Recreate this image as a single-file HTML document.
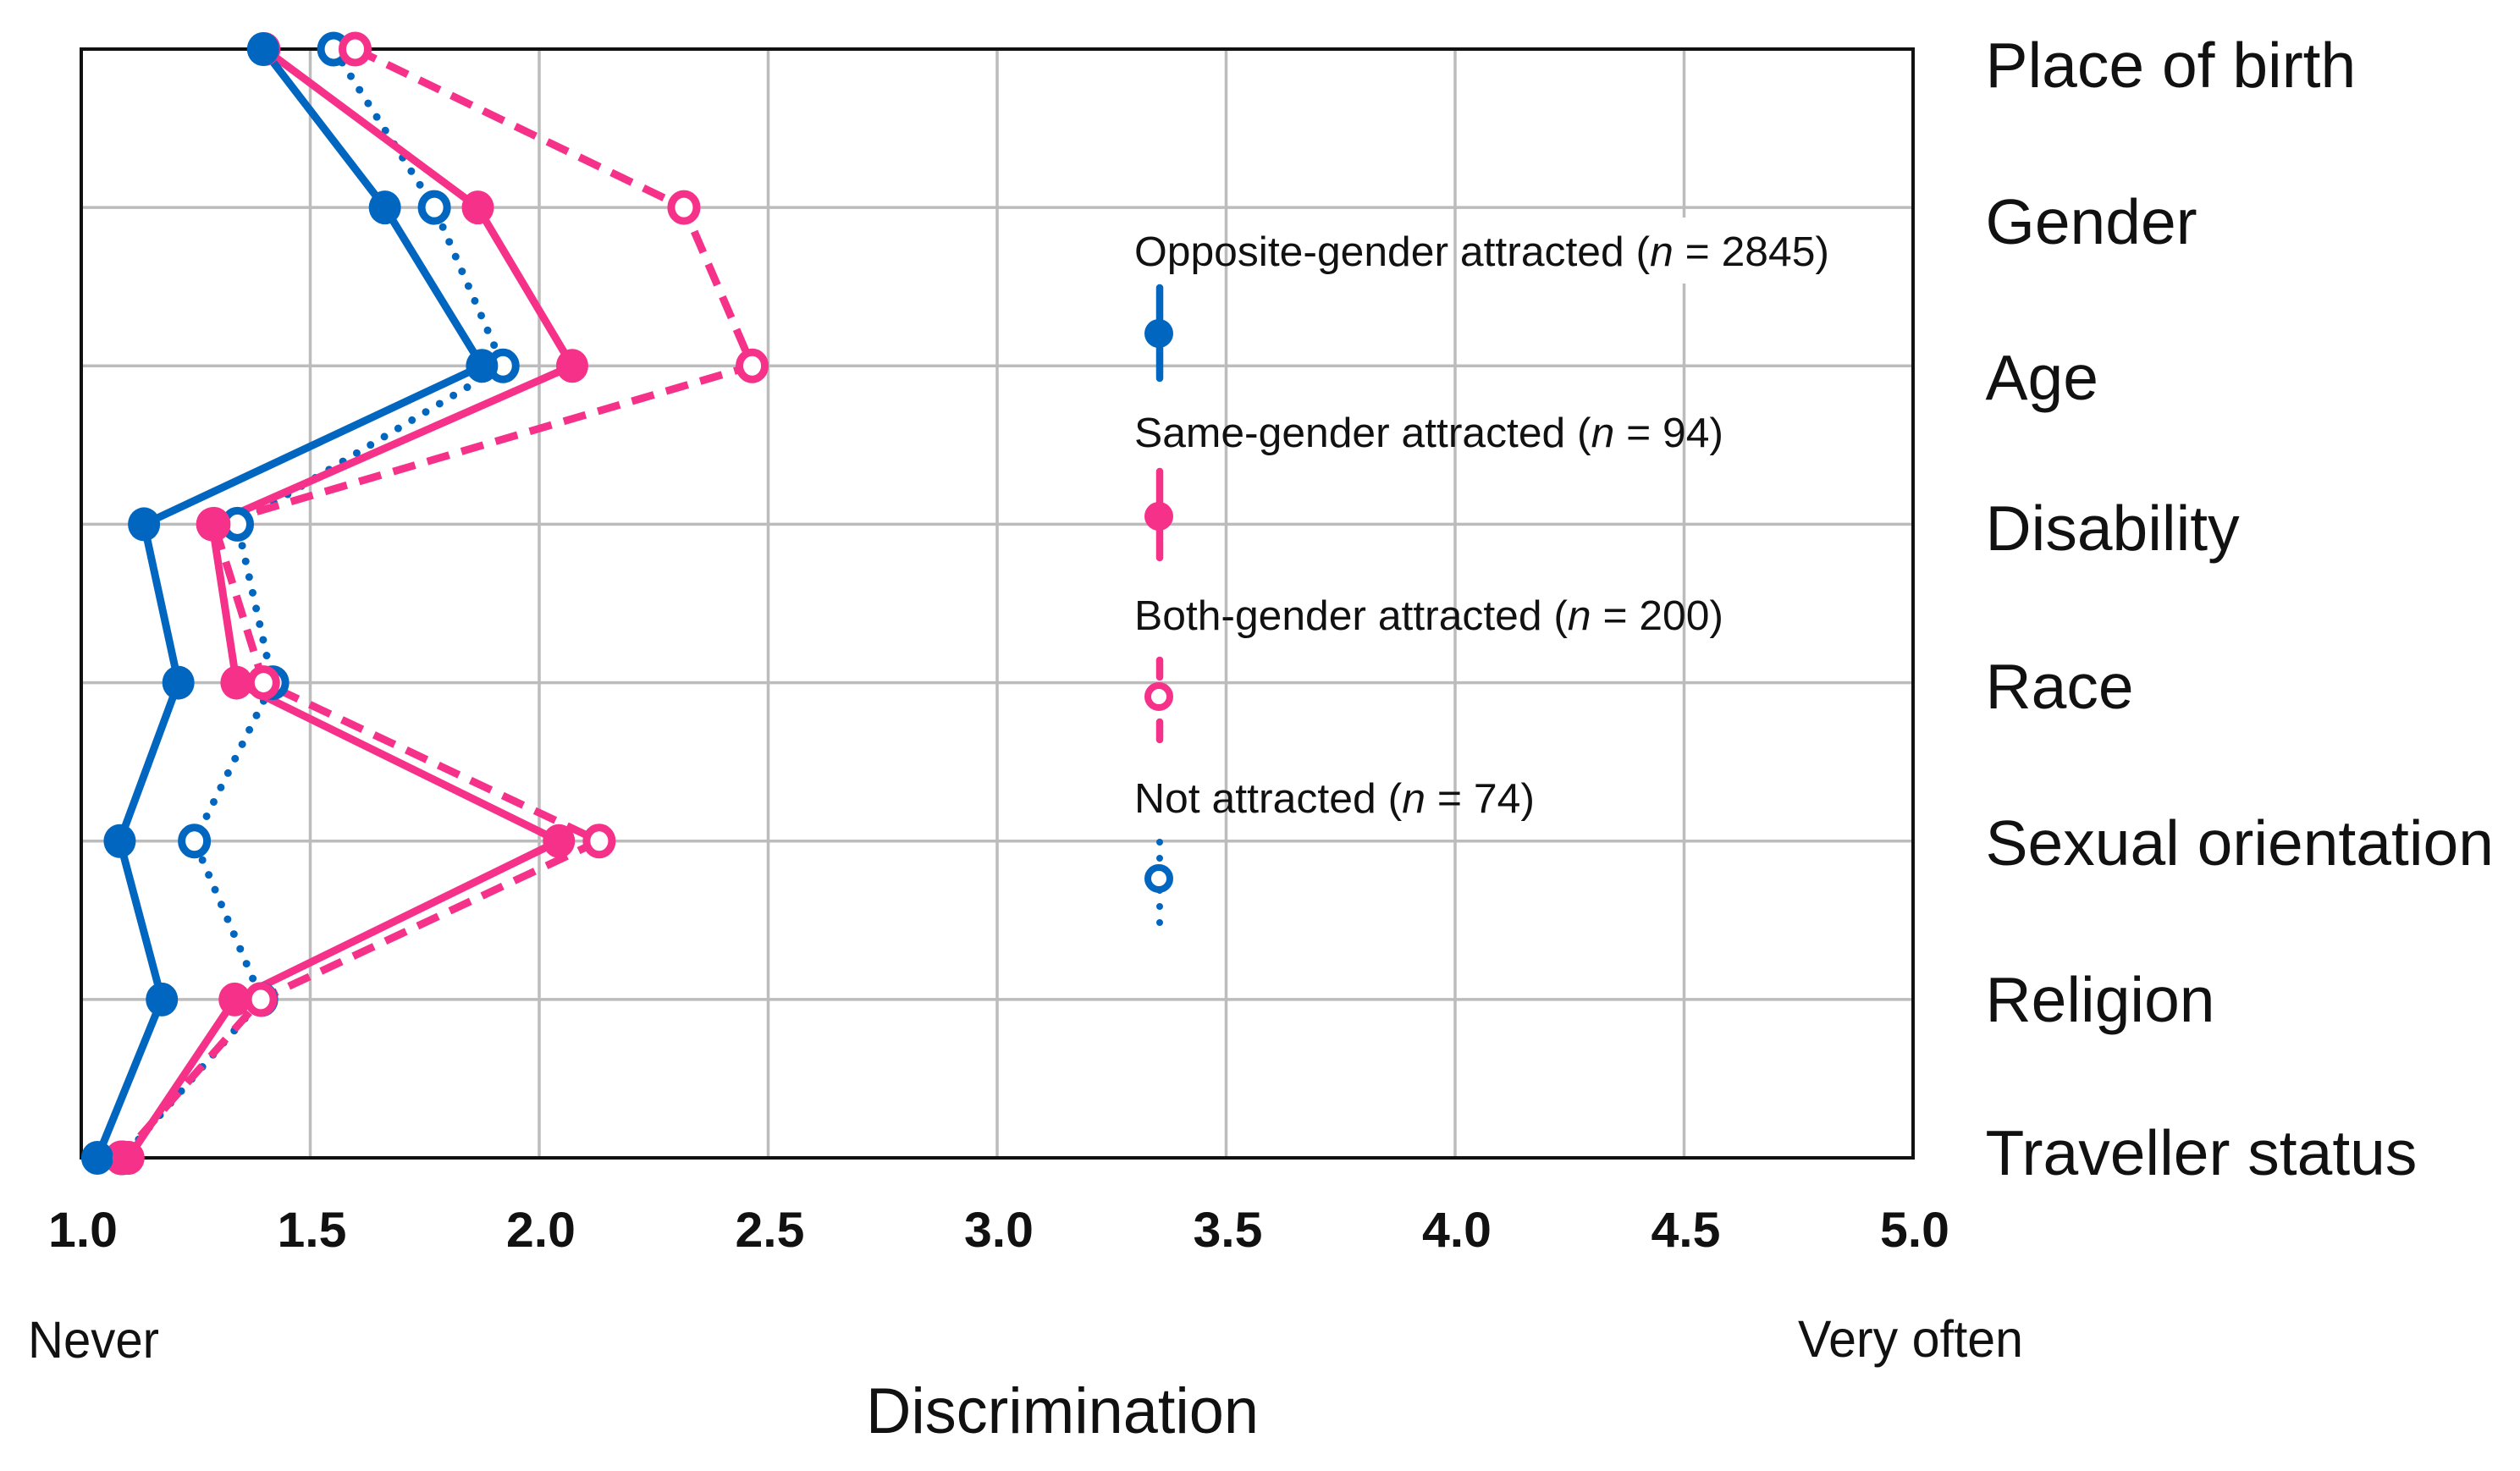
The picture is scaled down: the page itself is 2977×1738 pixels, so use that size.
<!DOCTYPE html>
<html lang="en">
<head>
<meta charset="utf-8">
<title>Discrimination by sexual attraction</title>
<style>
  html, body { margin: 0; padding: 0; background: #ffffff; }
  svg { display: block; }
  text { font-family: "Liberation Sans", Arial, sans-serif; fill: #111111; }
  .cat { font-size: 75px; }
  .leg { font-size: 49.5px; }
  .tick { font-size: 58px; font-weight: bold; }
</style>
</head>
<body>
<svg id="chart" xmlns="http://www.w3.org/2000/svg" width="2977" height="1738" viewBox="0 0 2977 1738">
  <rect x="0" y="0" width="2977" height="1738" fill="#ffffff"/>
  <g id="grid"></g>
  <rect x="1980" y="257" width="16" height="78" fill="#ffffff"/>
  <rect id="frame" fill="none" stroke="#111111" stroke-width="4"/>
  <g id="lines"></g>
  <g id="markers"></g>
  <g id="xticks"></g>

  <text class="cat" x="2345.5" y="103">Place of birth</text>
  <text class="cat" x="2345.5" y="288">Gender</text>
  <text class="cat" x="2345.5" y="472">Age</text>
  <text class="cat" x="2345.5" y="650">Disability</text>
  <text class="cat" x="2345.5" y="837">Race</text>
  <text class="cat" x="2345.5" y="1022">Sexual orientation</text>
  <text class="cat" x="2345.5" y="1207">Religion</text>
  <text class="cat" x="2345.5" y="1388">Traveller status</text>

  <text x="33" y="1604" font-size="61" textLength="155" lengthAdjust="spacingAndGlyphs">Never</text>
  <text x="2124" y="1603" font-size="61" textLength="266" lengthAdjust="spacingAndGlyphs">Very often</text>
  <text x="1023" y="1693" font-size="76" textLength="464" lengthAdjust="spacingAndGlyphs">Discrimination</text>

  <g>
    <g>
      <text class="leg" x="1340" y="314" textLength="821" lengthAdjust="spacingAndGlyphs">Opposite-gender attracted (<tspan font-style="italic">n</tspan> = 2845)</text>
      <line x1="1370" y1="340" x2="1370" y2="447" stroke="#0066bf" stroke-width="8.5" stroke-linecap="round"/>
      <circle cx="1369" cy="394" r="17" fill="#0066bf"/>
    </g>
    <g>
      <text class="leg" x="1340" y="528" textLength="696" lengthAdjust="spacingAndGlyphs">Same-gender attracted (<tspan font-style="italic">n</tspan> = 94)</text>
      <line x1="1370" y1="557" x2="1370" y2="659" stroke="#f5318a" stroke-width="8.5" stroke-linecap="round"/>
      <circle cx="1369" cy="610" r="17" fill="#f5318a"/>
    </g>
    <g>
      <text class="leg" x="1340" y="744" textLength="696" lengthAdjust="spacingAndGlyphs">Both-gender attracted (<tspan font-style="italic">n</tspan> = 200)</text>
      <line x1="1370" y1="780" x2="1370" y2="800" stroke="#f5318a" stroke-width="8.5" stroke-linecap="round"/>
      <line x1="1370" y1="853" x2="1370" y2="874" stroke="#f5318a" stroke-width="8.5" stroke-linecap="round"/>
      <circle cx="1369" cy="823" r="13" fill="#ffffff" stroke="#f5318a" stroke-width="8"/>
    </g>
    <g>
      <text class="leg" x="1340" y="960" textLength="473" lengthAdjust="spacingAndGlyphs">Not attracted (<tspan font-style="italic">n</tspan> = 74)</text>
      <line x1="1370" y1="995" x2="1370" y2="1092" stroke="#0066bf" stroke-width="8" stroke-linecap="round" stroke-dasharray="0 19"/>
      <circle cx="1369" cy="1038" r="13" fill="#ffffff" stroke="#0066bf" stroke-width="8"/>
    </g>
  </g>
</svg>
<script>
const categories = ["Place of birth", "Gender", "Age", "Disability", "Race", "Sexual orientation", "Religion", "Traveller status"];
const oppositeGender = [1.397, 1.663, 1.875, 1.137, 1.212, 1.084, 1.176, 1.035];
const sameGender = [1.400, 1.866, 2.072, 1.286, 1.339, 2.043, 1.335, 1.103];
const bothGender = [1.598, 2.316, 2.465, 1.290, 1.398, 2.131, 1.392, 1.087];
const notAttracted = [1.551, 1.771, 1.921, 1.341, 1.418, 1.247, 1.394, 1.090];
const xTickValues = [1.0, 1.5, 2.0, 2.5, 3.0, 3.5, 4.0, 4.5, 5.0];
const xTickLabels = ["1.0", "1.5", "2.0", "2.5", "3.0", "3.5", "4.0", "4.5", "5.0"];

const NS = "http://www.w3.org/2000/svg";
const plotLeft = 96, plotRight = 2260, plotTop = 58, plotBottom = 1368;
function xScale(v) { return plotLeft + (v - 1) * (plotRight - plotLeft) / 4; }
function yScale(i) { return plotTop + i * (plotBottom - plotTop) / (categories.length - 1); }
function make(tag, attrs) {
  const el = document.createElementNS(NS, tag);
  for (const k in attrs) el.setAttribute(k, attrs[k]);
  return el;
}

const gridGroup = document.getElementById("grid");
xTickValues.forEach(function (v, i) {
  if (i === 0 || i === xTickValues.length - 1) return;
  const gl = make("line", { x1: xScale(v), x2: xScale(v), y1: plotTop, y2: plotBottom, stroke: "#bcbcbc", "stroke-width": 3.5 });
  
  
  gridGroup.appendChild(gl);
});
categories.forEach(function (c, i) {
  if (i === 0 || i === categories.length - 1) return;
  const gl = make("line", { x1: plotLeft, x2: plotRight, y1: yScale(i), y2: yScale(i), stroke: "#bcbcbc", "stroke-width": 3.5 });
  
  
  gridGroup.appendChild(gl);
});

const frame = document.getElementById("frame");
frame.setAttribute("x", plotLeft);
frame.setAttribute("y", plotTop);
frame.setAttribute("width", plotRight - plotLeft);
frame.setAttribute("height", plotBottom - plotTop);

const tickGroup = document.getElementById("xticks");
xTickValues.forEach(function (v, i) {
  const t = make("text", { x: xScale(v) + 2, y: 1473, "text-anchor": "middle", "class": "tick", textLength: 82, lengthAdjust: "spacingAndGlyphs" });
  
  
  t.textContent = xTickLabels[i];
  tickGroup.appendChild(t);
});

const blue = "#0066bf", pink = "#f5318a";
const lineGroup = document.getElementById("lines");
const markerGroup = document.getElementById("markers");

function drawLine(values, color, dash, name) {
  const pts = values.map(function (v, i) { return xScale(v) + "," + yScale(i); }).join(" ");
  const pl = make("polyline", { points: pts, fill: "none", stroke: color, "stroke-width": 9, "stroke-linejoin": "round", "stroke-linecap": dash === "0 19" ? "round" : "butt" });
  if (dash) pl.setAttribute("stroke-dasharray", dash);
  
  
  lineGroup.appendChild(pl);
}
function drawMarker(value, i, color, open, name) {
  const m = make("ellipse", open
    ? { cx: xScale(value), cy: yScale(i), rx: 15, ry: 16, fill: "#ffffff", stroke: color, "stroke-width": 9 }
    : { cx: xScale(value), cy: yScale(i), rx: 19, ry: 20, fill: color });
  
  
  markerGroup.appendChild(m);
}

drawLine(notAttracted, blue, "0 19", "line-not-attracted");
drawLine(bothGender, pink, "27 15", "line-both-gender");
drawLine(sameGender, pink, null, "line-same-gender");
drawLine(oppositeGender, blue, null, "line-opposite-gender");

notAttracted.forEach(function (v, i) { drawMarker(v, i, blue, true, "point-not-attracted"); });
sameGender.forEach(function (v, i) { drawMarker(v, i, pink, false, "point-same-gender"); });
bothGender.forEach(function (v, i) { drawMarker(v, i, pink, true, "point-both-gender"); });
oppositeGender.forEach(function (v, i) { drawMarker(v, i, blue, false, "point-opposite-gender"); });
categories.forEach(function (c, i) {
  if (c !== "Disability" && c !== "Traveller status") return;
  drawMarker(sameGender[i], i, pink, false, "point-same-gender-front");
});
</script>
</body>
</html>
